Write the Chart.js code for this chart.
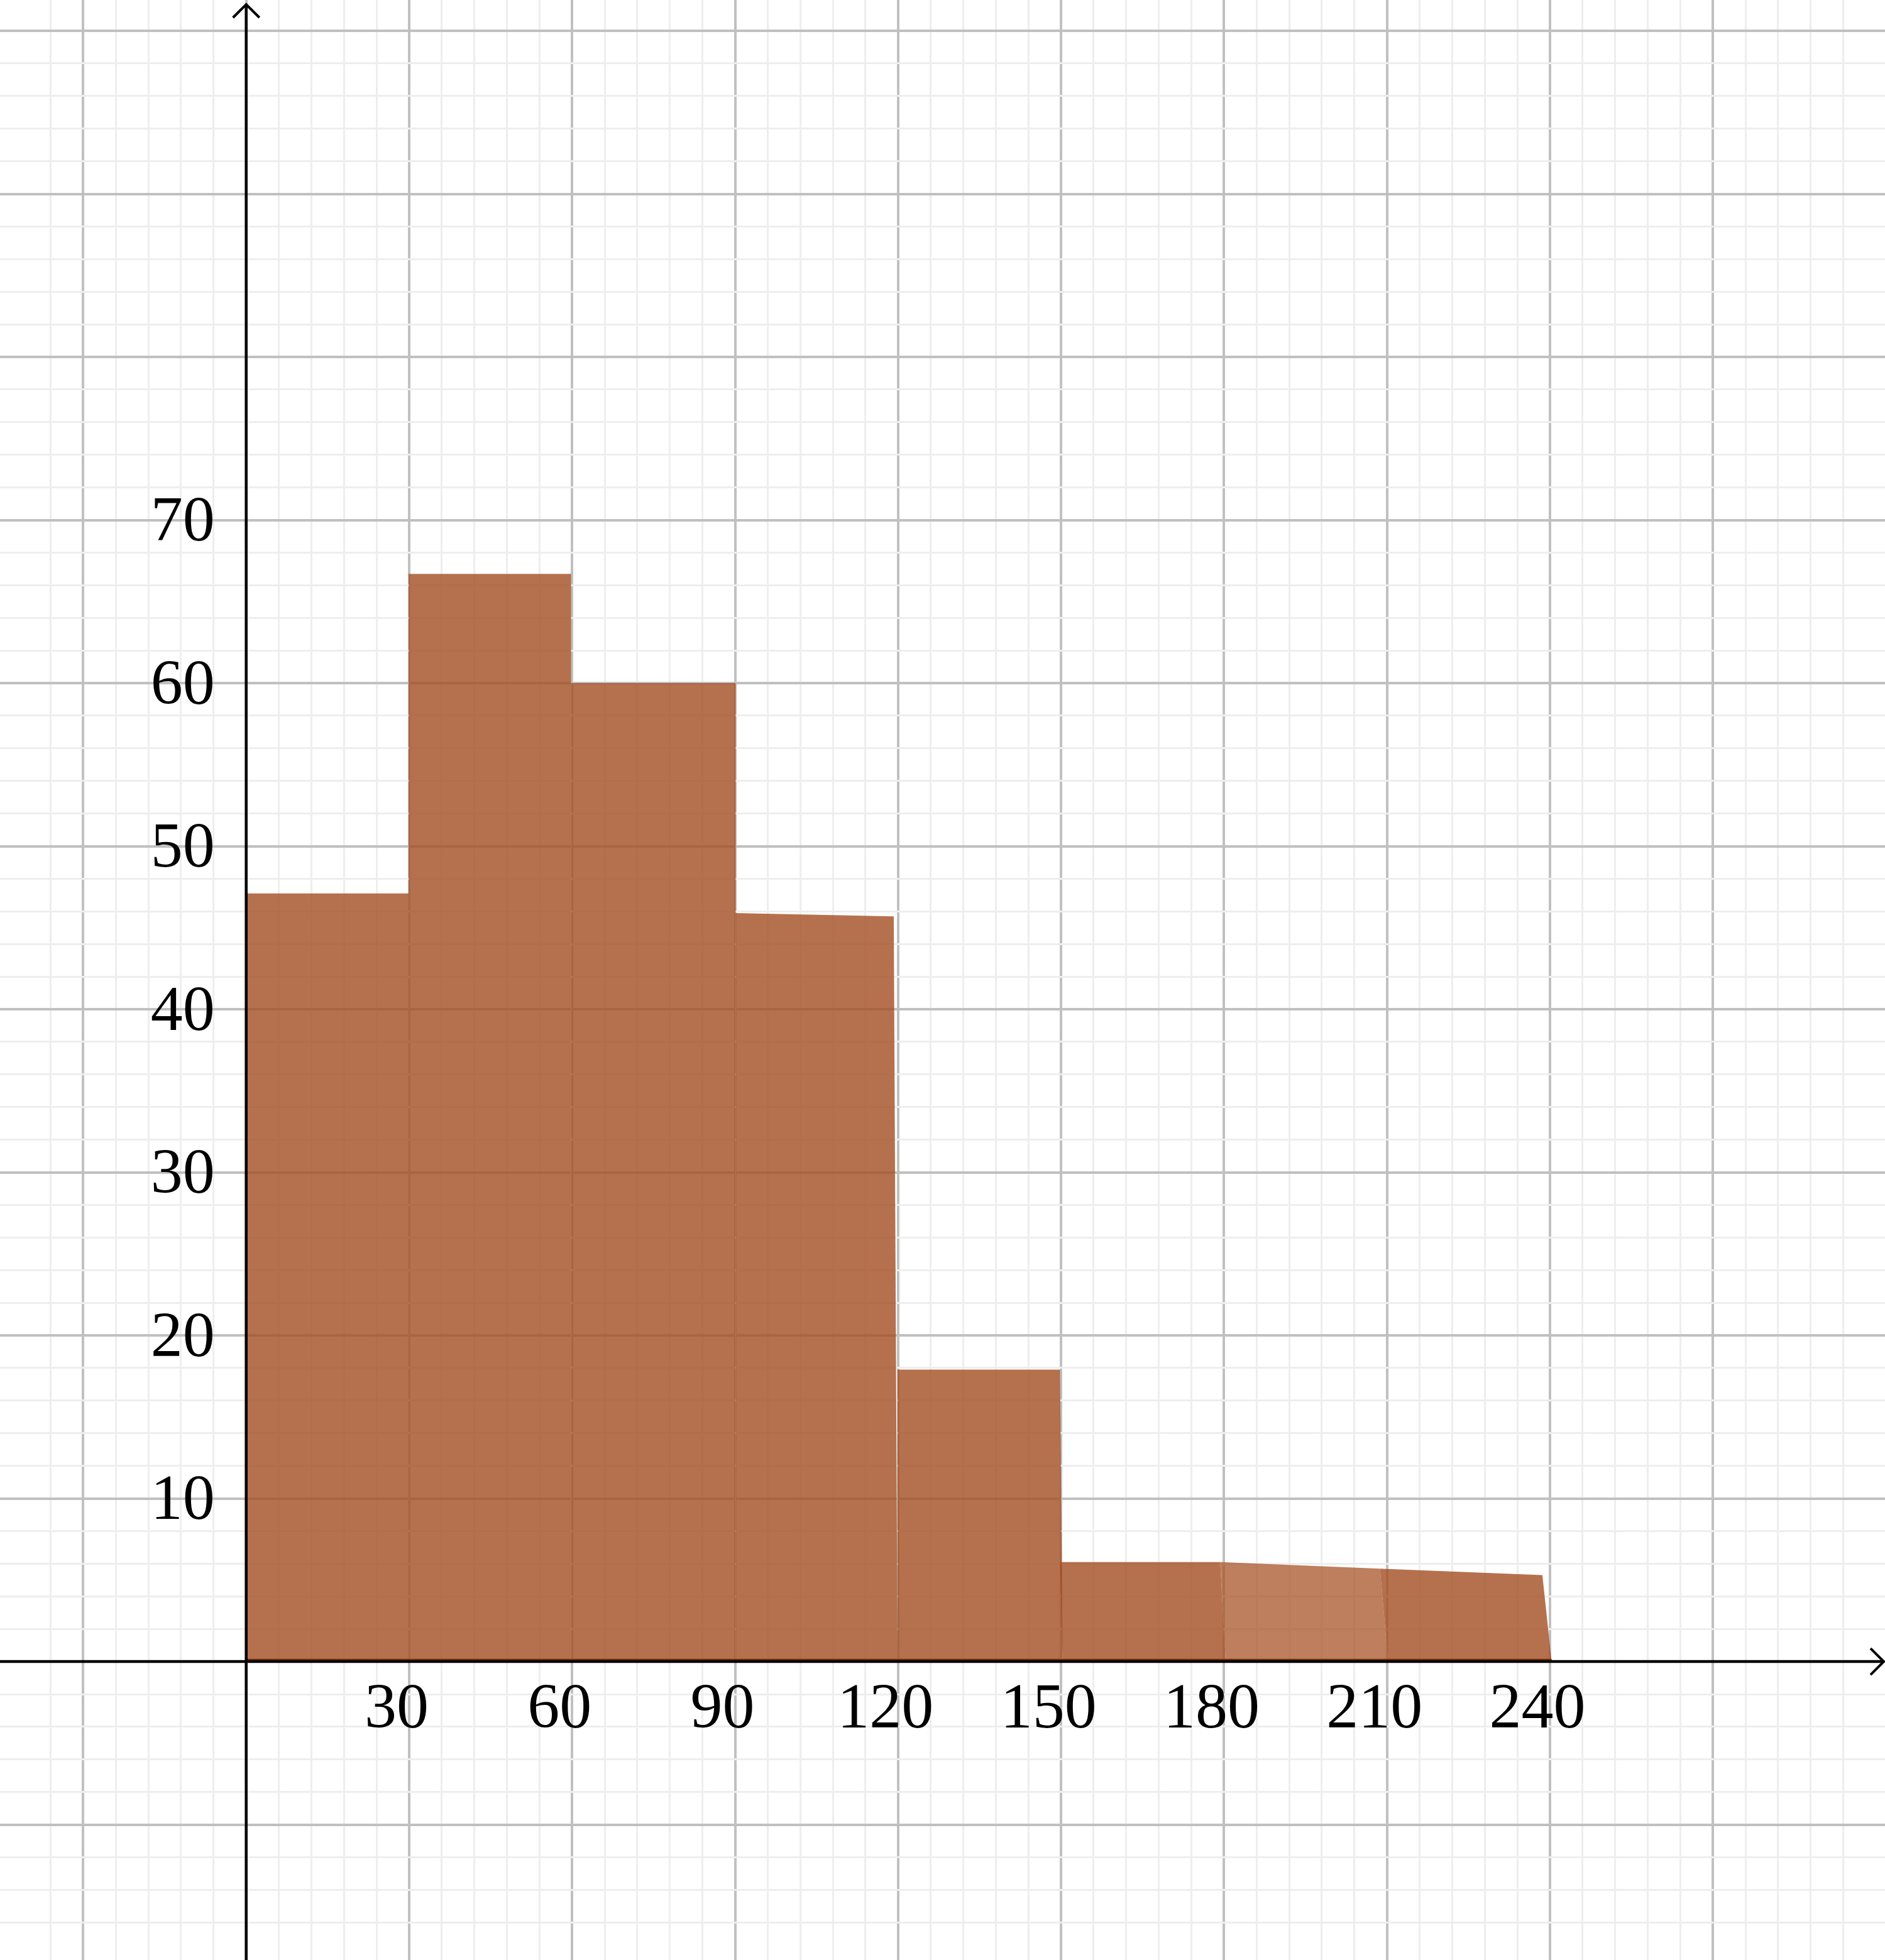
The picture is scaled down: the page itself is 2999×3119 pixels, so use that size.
<!DOCTYPE html>
<html>
<head>
<meta charset="utf-8">
<script src="https://cdn.jsdelivr.net/npm/chart.js@4/dist/chart.umd.min.js"></script>
<style>
  html, body { margin: 0; padding: 0; background: #fff; overflow: hidden; }
  canvas { display: block; }
</style>
</head>
<body>
<canvas id="histChart" width="2999" height="3119"></canvas>
<script>
// bins of the histogram
var bins = ['0-30', '30-60', '60-90', '90-120', '120-150', '150-180', '180-210', '210-240'];
// height at the left and right end of each top edge (hand drawn, so a few slant a bit)
var heightLeft  = [47.1, 66.7, 60.0, 45.9, 17.9, 6.1, 6.1, 5.7];
var heightRight = [47.1, 66.7, 60.0, 45.7, 17.9, 6.1, 5.7, 5.3];
// x of the corners of each bar, top and base
var topLeft   = [0, 29.9, 59.8, 90.1, 119.9, 149.8, 179.3, 208.7];
var topRight  = [29.9, 59.8, 90.1, 119.2, 149.8, 179.3, 208.7, 238.6];
var baseLeft  = [0, 29.9, 59.8, 90.1, 119.9, 150.3, 180.3, 210.2];
var baseRight = [29.9, 59.8, 90.1, 119.9, 150.3, 180.3, 210.2, 240.3];

var xTickLabels = [30, 60, 90, 120, 150, 180, 210, 240];
var yTickLabels = [10, 20, 30, 40, 50, 60, 70];

var fillMain = 'rgba(163, 78, 32, 0.8)';
var fillLight = 'rgba(163, 78, 32, 0.72)';

function isStep(v, step) {
    var r = v / step;
    return Math.abs(r - Math.round(r)) < 1e-6;
}

var datasets = [];
for (var i = 0; i < bins.length; i++) {
    datasets.push({
        label: bins[i],
        data: [
            {x: baseLeft[i], y: 0},
            {x: topLeft[i], y: heightLeft[i]},
            {x: topRight[i], y: heightRight[i]},
            {x: baseRight[i], y: 0}
        ],
        backgroundColor: i === 6 ? fillLight : fillMain,
        borderColor: 'transparent',
        borderWidth: 0,
        pointRadius: 0,
        tension: 0,
        fill: 'shape'
    });
}

// axes with arrows and the tick numbers, drawn on top like the original
var axesPlugin = {
    id: 'axes',
    afterDatasetsDraw: function(chart) {
        var ctx = chart.ctx;
        var xs = chart.scales.x, ys = chart.scales.y;
        var area = chart.chartArea;
        var x0 = xs.getPixelForValue(0);
        var y0 = ys.getPixelForValue(0);
        ctx.save();

        // dark edge along the base of the bars
        ctx.strokeStyle = '#7a2e08';
        ctx.lineWidth = 2.5;
        ctx.beginPath();
        ctx.moveTo(xs.getPixelForValue(baseLeft[0]), y0 - 3.2);
        ctx.lineTo(xs.getPixelForValue(baseRight[baseRight.length - 1]), y0 - 3.2);
        ctx.stroke();

        ctx.strokeStyle = '#000';
        ctx.lineWidth = 4.5;
        ctx.lineCap = 'butt';
        ctx.beginPath();
        ctx.moveTo(area.left, y0);
        ctx.lineTo(area.right - 3, y0);
        ctx.moveTo(x0, area.bottom);
        ctx.lineTo(x0, area.top + 7);
        ctx.stroke();

        // arrow heads
        ctx.lineWidth = 4;
        ctx.lineJoin = 'miter';
        ctx.beginPath();
        ctx.moveTo(x0 - 21, area.top + 28);
        ctx.lineTo(x0, area.top + 7);
        ctx.lineTo(x0 + 21, area.top + 28);
        ctx.moveTo(area.right - 23, y0 - 21);
        ctx.lineTo(area.right - 2, y0);
        ctx.lineTo(area.right - 23, y0 + 21);
        ctx.stroke();

        ctx.fillStyle = '#000';
        ctx.font = '102px "Liberation Serif", "DejaVu Serif", serif';
        ctx.textBaseline = 'middle';
        ctx.textAlign = 'center';
        xTickLabels.forEach(function(v) {
            ctx.fillText(String(v), xs.getPixelForValue(v) - 20, y0 + 78);
        });
        ctx.textAlign = 'right';
        yTickLabels.forEach(function(v) {
            ctx.fillText(String(v), x0 - 50, ys.getPixelForValue(v) + 6);
        });
        ctx.restore();
    }
};

function gridColor(step, major) {
    return function(c) {
        var v = c.tick.value;
        if (isStep(v, major)) return '#c0c0c0';
        if (isStep(v, step)) return '#eeeeee';
        return 'rgba(0,0,0,0)';
    };
}
function gridWidth(major) {
    return function(c) {
        return isStep(c.tick.value, major) ? 4 : 3;
    };
}

new Chart(document.getElementById('histChart'), {
    type: 'line',
    data: { datasets: datasets },
    options: {
        responsive: false,
        animation: false,
        events: [],
        layout: { padding: 0 },
        plugins: {
            legend: { display: false },
            tooltip: { enabled: false },
            title: { display: false }
        },
        scales: {
            x: {
                type: 'linear',
                min: -45.32,
                max: 301.67,
                border: { display: false },
                grid: { color: gridColor(6, 30), lineWidth: gridWidth(30), drawTicks: false },
                ticks: { display: false, stepSize: 6 }
            },
            y: {
                type: 'linear',
                min: -18.30,
                max: 101.89,
                border: { display: false },
                grid: { color: gridColor(2, 10), lineWidth: gridWidth(10), drawTicks: false },
                ticks: { display: false, stepSize: 2 }
            }
        }
    },
    plugins: [axesPlugin]
});
</script>
</body>
</html>
